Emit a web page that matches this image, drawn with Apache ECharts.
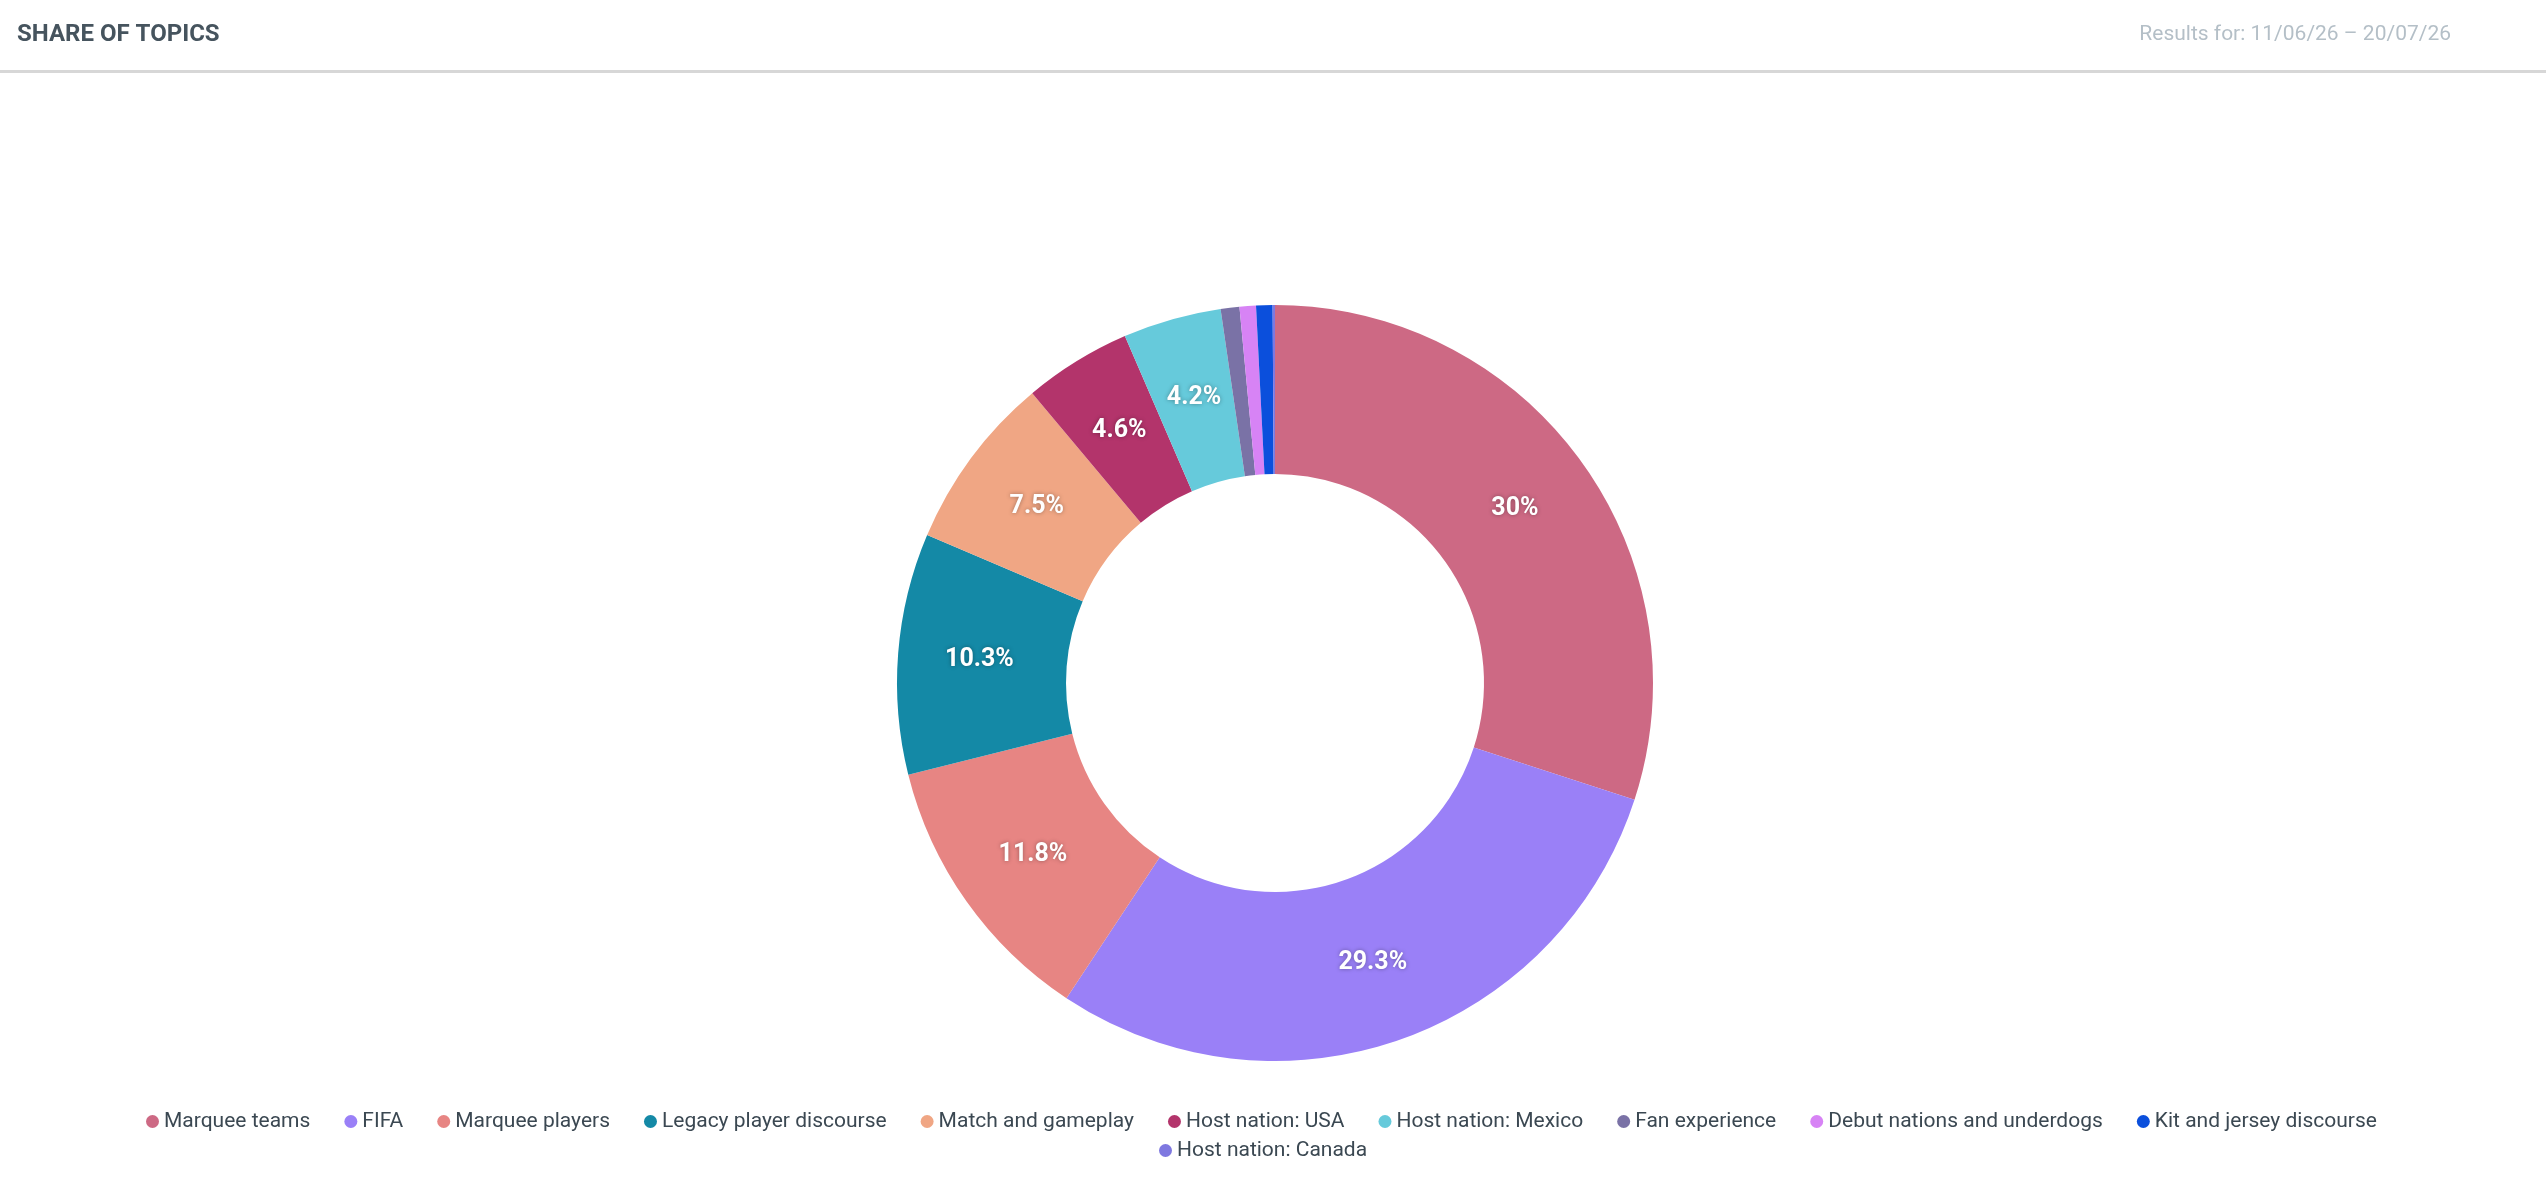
<!DOCTYPE html>
<html>
<head>
<meta charset="utf-8">
<script src="https://cdn.jsdelivr.net/npm/echarts@6/dist/echarts.min.js"></script>
<style>
  html, body { margin: 0; padding: 0; background: #fff; }
  #chart { width: 2546px; height: 1178px; }
</style>
</head>
<body>
<div id="chart"></div>
<script>
// topic shares, in percent
const topics = [
  'Marquee teams',
  'FIFA',
  'Marquee players',
  'Legacy player discourse',
  'Match and gameplay',
  'Host nation: USA',
  'Host nation: Mexico',
  'Fan experience',
  'Debut nations and underdogs',
  'Kit and jersey discourse',
  'Host nation: Canada'
]
const shares = [30, 29.3, 11.8, 10.3, 7.5, 4.6, 4.2, 0.8, 0.7, 0.7, 0.1]

const palette = [
  '#cd6984', '#9a80f7', '#e78583', '#1489a6', '#f0a684', '#b3346b',
  '#66cadb', '#7a72a6', '#d783f5', '#0b4fdc', '#7e78e0'
]

const titleText = 'SHARE OF TOPICS'
const rangeText = 'Results for: 11/06/26 \u2013 20/07/26'

const chart = echarts.init(document.getElementById('chart'))

const legendText = {
  color: '#3b4852',
  fontSize: 21,
  fontFamily: 'Roboto'
}

const option = {
  color: palette,
  animation: false,
  title: [
    {
      text: titleText,
      left: 12,
      top: 18,
      textStyle: {
        color: '#46545e',
        fontSize: 24,
        fontWeight: 'bold',
        fontFamily: 'Roboto'
      }
    },
    {
      text: rangeText,
      right: 90,
      top: 19,
      textStyle: {
        color: '#b4bfc7',
        fontSize: 21,
        fontWeight: 'normal',
        fontFamily: 'Roboto'
      }
    }
  ],
  graphic: [
    {
      type: 'rect',
      shape: { x: 0, y: 70, width: 2546, height: 3 },
      style: { fill: '#d7d7d7' }
    }
  ],
  legend: [
    {
      data: topics.slice(0, 10),
      left: 141,
      top: 1106,
      icon: 'circle',
      itemWidth: 13,
      itemHeight: 13,
      itemGap: 34,
      textStyle: legendText
    },
    {
      data: topics.slice(10),
      left: 1154,
      top: 1135,
      icon: 'circle',
      itemWidth: 13,
      itemHeight: 13,
      textStyle: legendText
    }
  ],
  series: [
    {
      name: 'Share of topics',
      type: 'pie',
      center: [1275, 683],
      radius: [209, 378],
      startAngle: 90,
      clockwise: true,
      avoidLabelOverlap: false,
      minShowLabelAngle: 6,
      label: {
        show: true,
        position: 'inside',
        formatter: '{c}%',
        color: '#fff',
        fontSize: 25,
        fontWeight: 'bold',
        fontFamily: 'Roboto',
        textShadowColor: 'rgba(0,0,0,0.35)',
        textShadowBlur: 4
      },
      labelLine: { show: false },
      data: topics.map((name, i) => ({ name, value: shares[i] }))
    }
  ]
}

chart.setOption(option)
</script>
</body>
</html>
